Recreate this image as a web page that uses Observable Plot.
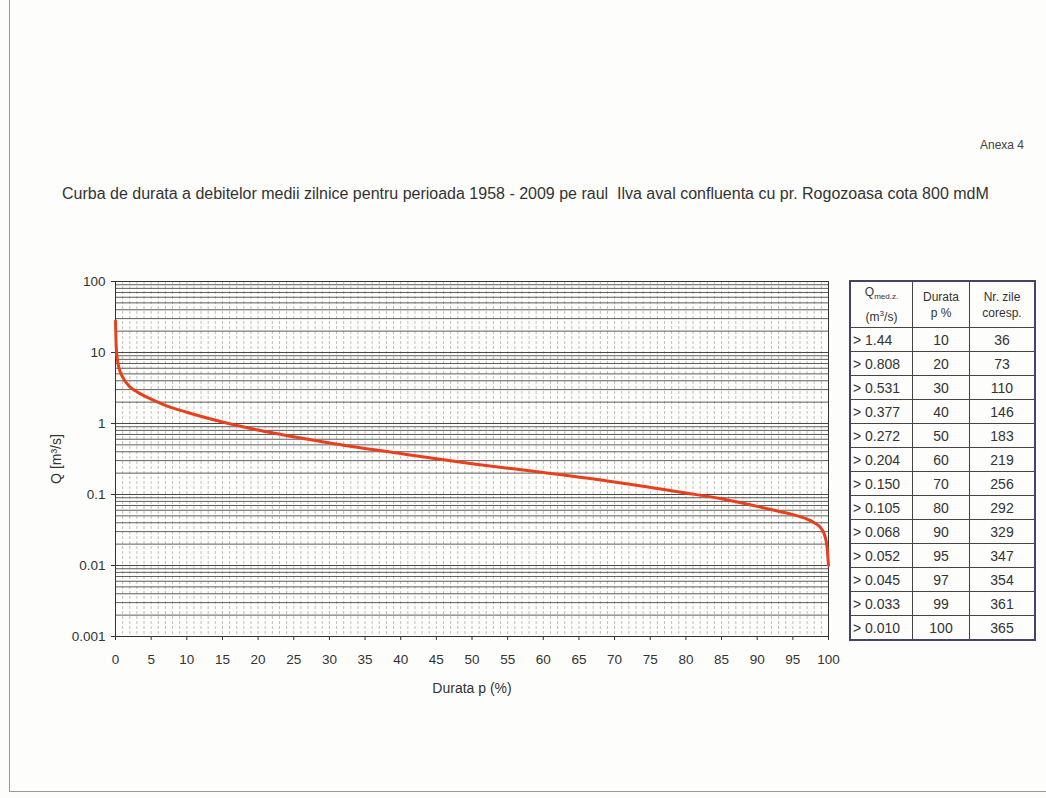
<!DOCTYPE html>
<html><head><meta charset="utf-8">
<script src="https://cdn.jsdelivr.net/npm/d3@7"></script>
<script src="https://cdn.jsdelivr.net/npm/@observablehq/plot@0.6"></script>
<style>
body{margin:0;background:#fdfdfb;font-family:"Liberation Sans",Arial,sans-serif;color:#333;}
#page{position:relative;width:1046px;height:798px;overflow:hidden;}
#anexa{position:absolute;left:980px;top:138px;font-size:12px;color:#444;}
#title{position:absolute;left:62px;top:185px;font-size:16px;color:#333;white-space:nowrap;}
#chart{position:absolute;left:0;top:260px;}
#tbl{position:absolute;left:849px;top:280px;border-collapse:collapse;border:2px solid #444466;font-size:14px;color:#333;}
#tbl td{border:1.5px solid #444;text-align:center;padding:0;height:23px;}
#tbl tr.h td{height:45px;font-size:12px;line-height:16px;}
#tbl td.q{text-align:left;padding-left:2px;}
#leftline{position:absolute;left:9px;top:0;width:1px;height:792px;background:#999;}
#bottomline{position:absolute;left:9px;top:791px;width:1037px;height:1px;background:#999;}
</style></head>
<body><div id="page">
<div id="leftline"></div><div id="bottomline"></div>
<div id="anexa">Anexa 4</div>
<div id="title">Curba de durata a debitelor medii zilnice pentru perioada 1958 - 2009 pe raul&nbsp; Ilva aval confluenta cu pr. Rogozoasa cota 800 mdM</div>
<div id="chart"></div>
<table id="tbl"></table>
</div>
<script>
// Duration curve
const pCurve = [0, 0.1, 0.3, 0.5, 1, 2, 3, 5, 7, 10, 15, 20, 30, 40, 50, 60, 70, 80, 85, 90, 93, 95, 97, 98, 99, 99.5, 99.8, 100];
const qCurve = [28, 12, 7.5, 6, 4.5, 3.3, 2.8, 2.2, 1.8, 1.44, 1.05, 0.808, 0.531, 0.377, 0.272, 0.204, 0.150, 0.105, 0.087, 0.068, 0.058, 0.052, 0.045, 0.040, 0.033, 0.026, 0.018, 0.010];
// Table
const tableQ = ["> 1.44", "> 0.808", "> 0.531", "> 0.377", "> 0.272", "> 0.204", "> 0.150", "> 0.105", "> 0.068", "> 0.052", "> 0.045", "> 0.033", "> 0.010"];
const tableP = [10, 20, 30, 40, 50, 60, 70, 80, 90, 95, 97, 99, 100];
const tableDays = [36, 73, 110, 146, 183, 219, 256, 292, 329, 347, 354, 361, 365];
// Axis ticks
const yTicks = [0.001, 0.01, 0.1, 1, 10, 100];
const xTicks = d3.range(0, 101, 5);

const curve = pCurve.map((p, i) => ({p, q: qCurve[i]}));
const minorY = [];
for (const d of [0.001, 0.01, 0.1, 1, 10]) for (let k = 1; k <= 10; k++) minorY.push(+(d * k).toPrecision(3));
const minorX = d3.range(0, 101, 1);

const plot = Plot.plot({
  width: 840, height: 460,
  marginLeft: 115, marginRight: 12, marginTop: 21, marginBottom: 84,
  style: {fontFamily: '"Liberation Sans", Arial, sans-serif', fontSize: "13.5px", color: "#333", background: "transparent"},
  x: {domain: [0, 100], ticks: xTicks, tickSize: 4, tickPadding: 14, label: "Durata p (%)", labelAnchor: "center", labelArrow: "none", labelOffset: 56},
  y: {type: "log", domain: [0.001, 100], ticks: yTicks, tickFormat: d => String(d), tickSize: 4, tickPadding: 6, label: "Q [m³/s]", labelAnchor: "center", labelArrow: "none", labelOffset: 64},
  marks: [
    Plot.ruleX(minorX, {stroke: "#999", strokeOpacity: 0.6, strokeDasharray: "3,2"}),
    Plot.ruleY(minorY, {stroke: "#444", strokeWidth: 1, strokeOpacity: 0.85}),
    Plot.frame({stroke: "#333"}),
    Plot.line(curve, {x: "p", y: "q", stroke: "#e8401c", strokeWidth: 3, curve: "monotone-x"})
  ]
});
plot.querySelectorAll('g[aria-label="x-axis label"] text, g[aria-label="y-axis label"] text').forEach(t => t.style.fontSize = "14px");
document.getElementById("chart").appendChild(plot);

// Table
const tbl = document.getElementById("tbl");
let html = '<tr class="h"><td style="width:61px">Q<sub style="font-size:8px">med.z.</sub><br>(m<sup style="font-size:8px">3</sup>/s)</td><td style="width:56px">Durata<br>p %</td><td style="width:64px">Nr. zile<br>coresp.</td></tr>';
tableQ.forEach((q, i) => {
  html += `<tr><td class="q">${q}</td><td>${tableP[i]}</td><td>${tableDays[i]}</td></tr>`;
});
tbl.innerHTML = html;
</script>
</body></html>
